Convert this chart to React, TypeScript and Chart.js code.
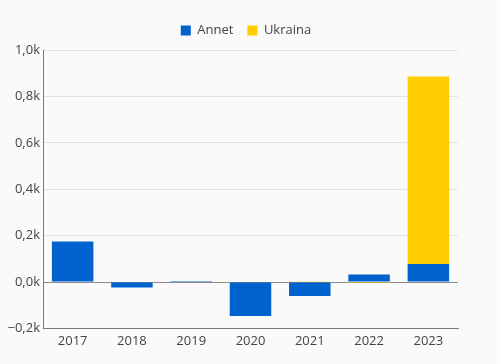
import React, { useEffect, useRef } from "react";
import { Chart, registerables } from "chart.js";

Chart.register(...registerables);

const categories = ["2017", "2018", "2019", "2020", "2021", "2022", "2023"];
const annetValues = [175, -24, 4, -147, -60, 32, 78];
const ukrainaValues = [0, 0, 0, 0, 3, -4, 808];
const yTicks = [-200, 0, 200, 400, 600, 800, 1000];

const fmt = (v: number) => {
  const s = (Math.abs(v) / 1000).toFixed(1).replace(".", ",") + "k";
  return v < 0 ? "\u2212" + s : s;
};

const bgPlugin = {
  id: "bg",
  beforeDraw(chart: any) {
    const { ctx, width, height } = chart;
    ctx.save();
    ctx.fillStyle = "#fafafa";
    ctx.fillRect(0, 0, width, height);
    ctx.restore();
  },
};

const legendPad = {
  id: "legendPad",
  beforeInit(chart: any) {
    const orig = chart.legend.fit;
    chart.legend.fit = function () {
      orig.bind(this)();
      this.height += 3;
    };
  },
  afterLayout(chart: any) {
    const lg = chart.legend;
    if (lg) {
      lg.left = 16;
      lg.right = 476;
    }
  },
};

export default function App() {
  const ref = useRef<HTMLCanvasElement>(null);
  useEffect(() => {
    document.body.style.margin = "0";
    const chart = new Chart(ref.current!, {
      type: "bar",
      data: {
        labels: categories,
        datasets: [
          { label: "Annet", data: annetValues, backgroundColor: "#0062cc", borderWidth: 0 },
          { label: "Ukraina", data: ukrainaValues, backgroundColor: "#ffcc00", borderWidth: 0 },
        ],
      },
      options: {
        animation: false,
        responsive: false,
        maintainAspectRatio: false,
        layout: { padding: { top: 10, right: 42, left: 0, bottom: 10 } },
        datasets: { bar: { barPercentage: 0.7, categoryPercentage: 1 } },
        plugins: {
          tooltip: { enabled: false },
          legend: {
            position: "top",
            labels: {
              boxWidth: 10,
              boxHeight: 10,
              color: "#444",
              padding: 14,
              font: { family: "'Open Sans'", size: 13 },
            },
          },
        },
        scales: {
          x: {
            stacked: true,
            grid: { display: false, drawTicks: false },
            border: { display: true, color: "#777", width: 1 },
            ticks: { color: "#444", padding: 5, font: { family: "'Open Sans'", size: 13 } },
          },
          y: {
            stacked: true,
            min: -200,
            max: 1000,
            afterBuildTicks(axis: any) {
              axis.ticks = yTicks.map((v) => ({ value: v }));
            },
            afterFit(axis: any) {
              axis.width = 43;
            },
            grid: {
              drawTicks: false,
              color: (c: any) => (c.tick && c.tick.value === 0 ? "#8a8a8a" : c.tick && c.tick.value === -200 ? "rgba(0,0,0,0)" : "#e4e4e4"),
            },
            border: { display: true, color: "#777", width: 1 },
            ticks: {
              color: "#444",
              padding: 3,
              font: { family: "'Open Sans'", size: 13 },
              callback: (v: any) => fmt(Number(v)),
            },
          },
        },
      },
      plugins: [bgPlugin, legendPad],
    });
    return () => chart.destroy();
  }, []);
  return (
    <div style={{ width: 500, height: 364, background: "#fafafa" }}>
      <canvas ref={ref} width={500} height={364} />
    </div>
  );
}
